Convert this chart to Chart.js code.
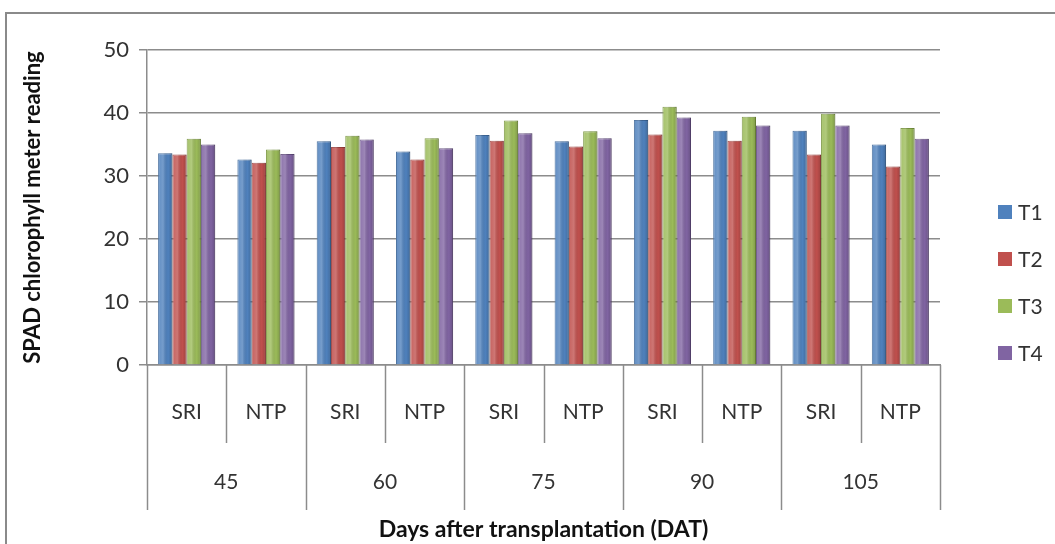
<!DOCTYPE html>
<html>
<head>
<meta charset="utf-8">
<script src="https://cdn.jsdelivr.net/npm/chart.js@4.4.0/dist/chart.umd.min.js"></script>
<style>
  html, body { margin: 0; padding: 0; background: #fff; }
  #wrap { width: 1055px; height: 544px; }
</style>
</head>
<body>
<div id="wrap"><canvas id="chart" width="1055" height="544"></canvas></div>
<script>
// categories: method within each DAT group
var methods = ["SRI", "NTP", "SRI", "NTP", "SRI", "NTP", "SRI", "NTP", "SRI", "NTP"];
var days = ["45", "60", "75", "90", "105"];
var seriesNames = ["T1", "T2", "T3", "T4"];

// SPAD readings
var t1 = [33.6, 32.6, 35.5, 33.9, 36.5, 35.5, 38.9, 37.2, 37.2, 35.0];
var t2 = [33.4, 32.1, 34.6, 32.6, 35.6, 34.7, 36.6, 35.6, 33.4, 31.5];
var t3 = [35.9, 34.2, 36.4, 36.0, 38.8, 37.1, 41.0, 39.4, 39.9, 37.6];
var t4 = [35.0, 33.5, 35.8, 34.4, 36.8, 36.0, 39.3, 38.0, 38.0, 35.9];

var yMin = 0, yMax = 50, yStep = 10;
var colors = ["#4F81BD", "#C0504D", "#9BBB59", "#8064A2"];
var edgeColors = ["#3A6496", "#963C3A", "#76923C", "#5F4A7B"];

var fontName = "Lato, 'Open Sans', sans-serif";
var textColor = "#333";
var lineColor = "#8c8c8c";

// frame round the whole chart
var framePlugin = {
  id: "frame",
  beforeDraw: function (chart) {
    var ctx = chart.ctx;
    ctx.save();
    ctx.fillStyle = "#fff";
    ctx.fillRect(0, 0, chart.width, chart.height);
    ctx.strokeStyle = "#8a8a8a";
    ctx.lineWidth = 2;
    ctx.strokeRect(6, 13, 1200, 700);
    ctx.restore();
  }
};

// light cylinder shading on top of the bars
var shadePlugin = {
  id: "shade",
  afterDatasetsDraw: function (chart) {
    var ctx = chart.ctx;
    ctx.save();
    chart.data.datasets.forEach(function (ds, di) {
      var meta = chart.getDatasetMeta(di);
      meta.data.forEach(function (bar) {
        var left = bar.x - bar.width / 2;
        var g = ctx.createLinearGradient(left, 0, left + bar.width, 0);
        g.addColorStop(0, "rgba(255,255,255,0.10)");
        g.addColorStop(0.35, "rgba(255,255,255,0.22)");
        g.addColorStop(0.7, "rgba(0,0,0,0.0)");
        g.addColorStop(1, "rgba(0,0,0,0.18)");
        ctx.fillStyle = g;
        ctx.fillRect(left, bar.y, bar.width, bar.base - bar.y);
      });
    });
    ctx.restore();
  }
};

// two-level category table under the plot, and the legend on the right
var tablePlugin = {
  id: "table",
  afterDraw: function (chart) {
    var ctx = chart.ctx;
    var xs = chart.scales.x;
    var ca = chart.chartArea;
    ctx.save();
    ctx.strokeStyle = lineColor;
    ctx.lineWidth = 1.5;
    var n = methods.length;
    for (var i = 0; i <= n; i++) {
      var x;
      if (i === 0) x = ca.left;
      else if (i === n) x = ca.right;
      else x = (xs.getPixelForValue(i - 1) + xs.getPixelForValue(i)) / 2;
      var yEnd = (i % 2 === 0) ? 510 : 443;
      ctx.beginPath();
      ctx.moveTo(Math.round(x) + 0.5, ca.bottom);
      ctx.lineTo(Math.round(x) + 0.5, yEnd);
      ctx.stroke();
    }
    ctx.fillStyle = textColor;
    ctx.textAlign = "center";
    ctx.textBaseline = "middle";
    ctx.font = "21px " + fontName;
    for (var j = 0; j < n; j++) {
      ctx.fillText(methods[j], xs.getPixelForValue(j), 412);
    }
    for (var g = 0; g < days.length; g++) {
      var cx = (xs.getPixelForValue(2 * g) + xs.getPixelForValue(2 * g + 1)) / 2;
      ctx.fillText(days[g], cx, 482);
    }

    // legend
    ctx.textAlign = "left";
    ctx.font = "21px " + fontName;
    chart.data.datasets.forEach(function (ds, di) {
      var y = 212 + di * 47;
      ctx.fillStyle = ds.backgroundColor;
      ctx.fillRect(998, y - 7, 14, 14);
      ctx.fillStyle = textColor;
      ctx.fillText(ds.label, 1018, y + 1);
    });
    ctx.restore();
  }
};

var seriesData = [t1, t2, t3, t4];
var datasets = [];
for (var k = 0; k < seriesNames.length; k++) {
  datasets.push({
    label: seriesNames[k],
    data: seriesData[k],
    backgroundColor: colors[k],
    borderColor: edgeColors[k],
    borderWidth: 1,
    barPercentage: 1.0,
    categoryPercentage: 0.72
  });
}

var ctx0 = document.getElementById("chart");
var myChart = new Chart(ctx0, {
  type: "bar",
  data: {
    labels: methods,
    datasets: datasets
  },
  options: {
    responsive: false,
    animation: false,
    devicePixelRatio: 1,
    layout: {
      padding: { left: 0, right: 115, top: 50, bottom: 0 }
    },
    plugins: {
      legend: { display: false },
      tooltip: { enabled: false }
    },
    scales: {
      x: {
        ticks: { display: false },
        grid: { display: false },
        border: { display: true, color: lineColor, width: 1.5 },
        title: {
          display: true,
          text: "Days after transplantation (DAT)",
          color: "#111",
          font: { family: fontName, size: 23, weight: "bold" },
          padding: { top: 0, bottom: 1 }
        },
        afterFit: function (scale) { scale.height = 179; }
      },
      y: {
        min: yMin,
        max: yMax,
        ticks: {
          stepSize: yStep,
          color: textColor,
          padding: 10,
          font: { family: fontName, size: 22 }
        },
        grid: { color: lineColor, lineWidth: 1.5, tickLength: 8 },
        border: { display: true, color: lineColor, width: 1.5 },
        title: {
          display: true,
          text: "SPAD chlorophyll meter reading",
          color: "#111",
          font: { family: fontName, size: 22, weight: "bold" },
          padding: { top: 20, bottom: 0 }
        },
        afterFit: function (scale) { scale.width = 147; }
      }
    }
  },
  plugins: [framePlugin, shadePlugin, tablePlugin]
});
</script>
</body>
</html>
